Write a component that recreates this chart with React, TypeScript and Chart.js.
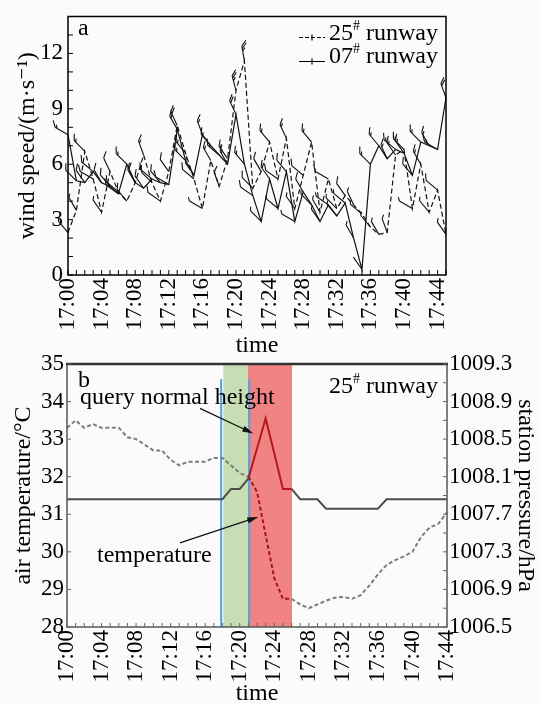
import React, { useEffect, useRef } from "react";
import { Chart, registerables } from "chart.js";
Chart.register(...registerables);

const FONT = "'Liberation Serif', 'Times New Roman', 'DejaVu Serif', serif";

// ---------- panel a ----------
const timeLabelsA = [
  "17:00","17:01","17:02","17:03","17:04","17:05","17:06","17:07","17:08","17:09",
  "17:10","17:11","17:12","17:13","17:14","17:15","17:16","17:17","17:18","17:19",
  "17:20","17:21","17:22","17:23","17:24","17:25","17:26","17:27","17:28","17:29",
  "17:30","17:31","17:32","17:33","17:34","17:35","17:36","17:37","17:38","17:39",
  "17:40","17:41","17:42","17:43","17:44","17:45",
];
const wind25 = [
  2.3, 3.5, 6.7, 5.2, 3.4, 5.6, 4.5, 4.0, 5.0, 6.5,
  5.0, 4.0, 5.6, 8.1, 6.6, 5.2, 3.6, 6.2, 4.8, 6.3,
  10.0, 11.6, 4.7, 5.6, 7.2, 5.2, 7.4, 3.6, 5.4, 7.2,
  3.4, 5.2, 3.6, 4.3, 3.8, 3.3, 2.6, 2.2, 2.3, 6.5,
  6.8, 3.6, 6.0, 3.4, 4.6, 2.2,
];
const wind07 = [
  7.6, 5.1, 5.0, 5.6, 5.0, 4.8, 4.4, 6.0, 5.0, 4.7,
  5.2, 5.0, 4.9, 7.9, 6.2, 5.4, 7.6, 7.0, 6.5, 6.0,
  8.7, 6.0, 4.3, 2.9, 5.2, 3.6, 5.6, 2.9, 4.5, 3.8,
  2.9, 3.8, 3.2, 3.9, 2.0, 0.3, 6.0, 7.0, 6.3, 6.8,
  6.6, 5.4, 7.2, 7.0, 6.8, 9.6,
];
// wind direction (degrees from north) used for the barbs
const dir25 = [
  320, 330, 315, 300, 325, 335, 310, 320, 330, 340,
  315, 305, 325, 335, 320, 310, 300, 330, 340, 325,
  345, 350, 315, 330, 320, 305, 335, 325, 310, 320,
  330, 300, 315, 325, 335, 310, 320, 330, 340, 325,
  315, 300, 330, 320, 310, 325,
];
const dir07 = [
  300, 315, 325, 310, 330, 320, 305, 315, 335, 325,
  310, 320, 300, 330, 315, 325, 340, 320, 310, 330,
  335, 320, 305, 315, 325, 310, 320, 300, 330, 315,
  325, 305, 320, 310, 330, 325, 315, 320, 335, 310,
  325, 320, 315, 330, 300, 340,
];
const windTicks = [0, 3, 6, 9, 12];

// ---------- panel b ----------
const timeLabelsB = [
  "17:00","17:01","17:02","17:03","17:04","17:05","17:06","17:07","17:08","17:09",
  "17:10","17:11","17:12","17:13","17:14","17:15","17:16","17:17","17:18","17:19",
  "17:20","17:21","17:22","17:23","17:24","17:25","17:26","17:27","17:28","17:29",
  "17:30","17:31","17:32","17:33","17:34","17:35","17:36","17:37","17:38","17:39",
  "17:40","17:41","17:42","17:43","17:44",
];
const temperature = [
  33.3, 33.5, 33.3, 33.4, 33.3, 33.3, 33.3, 33.05, 33.0, 32.85,
  32.7, 32.7, 32.45, 32.3, 32.4, 32.4, 32.4, 32.5, 32.5, 32.3,
  32.1, 32.0, 31.6, 30.45, 29.3, 28.75, 28.75, 28.6, 28.5, 28.6,
  28.7, 28.78, 28.8, 28.75, 28.85, 29.1, 29.4, 29.65, 29.78, 29.88,
  30.0, 30.4, 30.65, 30.75, 31.05,
];
const pressure = [
  1007.86, 1007.86, 1007.86, 1007.86, 1007.86, 1007.86, 1007.86, 1007.86, 1007.86, 1007.86,
  1007.86, 1007.86, 1007.86, 1007.86, 1007.86, 1007.86, 1007.86, 1007.86, 1007.86, 1007.97,
  1007.97, 1008.08, 1008.4, 1008.72, 1008.35, 1007.97, 1007.97, 1007.86, 1007.86, 1007.86,
  1007.76, 1007.76, 1007.76, 1007.76, 1007.76, 1007.76, 1007.76, 1007.86, 1007.86, 1007.86,
  1007.86, 1007.86, 1007.86, 1007.86, 1007.86,
];
const tempTicks = [28, 29, 30, 31, 32, 33, 34, 35];
const pressureTicks = ["1006.5", "1006.9", "1007.3", "1007.7", "1008.1", "1008.5", "1008.9", "1009.3"];
const greenBand = [18.1, 20.95];
const redBand = [20.95, 26.05];
const blueLines = [17.85, 21.1];
const blueTop = 34.6;
const heightArrow = [15.4, 33.82, 21.57, 33.15];
const tempArrow = [13.08, 30.24, 22.15, 30.93];

function drawBarb(ctx: CanvasRenderingContext2D, x: number, y: number, dirDeg: number, speed: number) {
  const r = (dirDeg * Math.PI) / 180;
  const dx = Math.sin(r), dy = -Math.cos(r);
  const L = 15;
  const ex = x + dx * L, ey = y + dy * L;
  ctx.beginPath();
  ctx.moveTo(x, y);
  ctx.lineTo(ex, ey);
  const c = Math.cos(Math.PI / 4), s = Math.sin(Math.PI / 4);
  const fx = dx * c - dy * s, fy = dx * s + dy * c;
  const full = Math.floor(speed / 4);
  const half = speed - full * 4 >= 2;
  let pos = 0;
  for (let k = 0; k < full; k++) {
    const bx = ex - dx * pos, by = ey - dy * pos;
    ctx.moveTo(bx, by);
    ctx.lineTo(bx + fx * 7, by + fy * 7);
    pos += 2.5;
  }
  if (half) {
    const bx = ex - dx * pos, by = ey - dy * pos;
    ctx.moveTo(bx, by);
    ctx.lineTo(bx + fx * 4, by + fy * 4);
  }
  ctx.stroke();
}

function arrow(ctx: CanvasRenderingContext2D, x1: number, y1: number, x2: number, y2: number) {
  const ang = Math.atan2(y2 - y1, x2 - x1);
  const hl = 11, hw = 3;
  ctx.beginPath();
  ctx.moveTo(x1, y1);
  ctx.lineTo(x2 - Math.cos(ang) * hl * 0.8, y2 - Math.sin(ang) * hl * 0.8);
  ctx.stroke();
  ctx.beginPath();
  ctx.moveTo(x2, y2);
  ctx.lineTo(x2 - Math.cos(ang) * hl - Math.sin(ang) * hw, y2 - Math.sin(ang) * hl + Math.cos(ang) * hw);
  ctx.lineTo(x2 - Math.cos(ang) * hl + Math.sin(ang) * hw, y2 - Math.sin(ang) * hl - Math.cos(ang) * hw);
  ctx.closePath();
  ctx.fill();
}

const tickFont = { family: FONT, size: 23, lineHeight: 1 };
const titleFont = { family: FONT, size: 24 };

export default function App() {
  const refA = useRef<HTMLCanvasElement>(null);
  const refB = useRef<HTMLCanvasElement>(null);

  useEffect(() => {
    const pluginA = {
      id: "panelA",
      afterDatasetsDraw(chart: any) {
        const ctx = chart.ctx as CanvasRenderingContext2D;
        ctx.save();
        ctx.strokeStyle = "#111";
        ctx.lineWidth = 1.1;
        ctx.setLineDash([]);
        const sets = [
          { vals: wind25, dirs: dir25 },
          { vals: wind07, dirs: dir07 },
        ];
        sets.forEach((st, d) => {
          const meta = chart.getDatasetMeta(d);
          meta.data.forEach((pt: any, i: number) => drawBarb(ctx, pt.x, pt.y, st.dirs[i], st.vals[i]));
        });
        ctx.restore();
      },
      afterDraw(chart: any) {
        const ctx = chart.ctx as CanvasRenderingContext2D;
        const a = chart.chartArea;
        ctx.save();
        ctx.strokeStyle = "#000";
        ctx.lineWidth = 1.5;
        ctx.strokeRect(a.left, a.top, a.right - a.left, a.bottom - a.top);
        ctx.lineWidth = 1;
        ctx.beginPath();
        const xs = chart.scales.x;
        for (let i = 0; i < timeLabelsA.length; i++) {
          const px = xs.getPixelForTick(i);
          ctx.moveTo(px, a.bottom);
          ctx.lineTo(px, a.bottom - 5);
        }
        const ys = chart.scales.y;
        ys.ticks.forEach((t: any) => {
          const py = ys.getPixelForValue(t.value);
          ctx.moveTo(a.left, py);
          ctx.lineTo(a.left + 5, py);
        });
        ctx.stroke();
        // legend samples
        ctx.lineWidth = 1.2;
        const lx1 = a.right - 147, lx2 = a.right - 121;
        const ly1 = a.top + 21, ly2 = a.top + 45;
        ctx.setLineDash([4, 2]);
        ctx.beginPath();
        ctx.moveTo(lx1, ly1);
        ctx.lineTo(lx2, ly1);
        ctx.stroke();
        ctx.setLineDash([]);
        ctx.beginPath();
        ctx.moveTo(lx1, ly2);
        ctx.lineTo(lx2, ly2);
        const mx = (lx1 + lx2) / 2;
        ctx.moveTo(mx, ly1 - 3);
        ctx.lineTo(mx, ly1 + 3);
        ctx.moveTo(mx, ly2 - 3);
        ctx.lineTo(mx, ly2 + 3);
        ctx.stroke();
        ctx.restore();
      },
    };

    const chartA = new Chart(refA.current as HTMLCanvasElement, {
      type: "line",
      data: {
        labels: timeLabelsA,
        datasets: [
          { label: "25# runway", data: wind25, borderColor: "#111", borderWidth: 1.2, borderDash: [5, 3], pointRadius: 0, tension: 0, fill: false },
          { label: "07# runway", data: wind07, borderColor: "#111", borderWidth: 1.2, pointRadius: 0, tension: 0, fill: false },
        ],
      },
      options: {
        animation: false,
        responsive: false,
        layout: { padding: { top: 12, right: 93, left: 0, bottom: 0 } },
        plugins: { legend: { display: false }, tooltip: { enabled: false } },
        scales: {
          x: {
            type: "category",
            offset: false,
            grid: { display: false, drawTicks: false },
            border: { display: false },
            ticks: {
              autoSkip: false, maxRotation: 90, minRotation: 90, padding: 3, color: "#000", font: tickFont,
              callback: (_v: any, i: number) => (i % 4 === 0 ? timeLabelsA[i] : ""),
            },
            title: { display: true, text: "time", color: "#000", font: titleFont, padding: 0 },
            afterFit: (s: any) => { s.height = 85; },
          },
          y: {
            min: 0, max: 14,
            grid: { display: false, drawTicks: false },
            border: { display: false },
            ticks: {
              stepSize: 1, maxTicksLimit: 100, autoSkip: false, padding: 5, color: "#000", font: tickFont,
              callback: (v: any) => (windTicks.includes(v) ? String(v) : ""),
            },
            title: { display: true, text: "wind speed/(m·s⁻¹)", color: "#000", font: titleFont, padding: { top: 13, bottom: 0 } },
            afterFit: (s: any) => { s.width = 68; },
          },
        },
      } as any,
      plugins: [pluginA],
    });

    const inRed = (c: any) => c.p0DataIndex >= redBand[0] - 0.1 && c.p1DataIndex <= redBand[1] + 0.1;

    const pluginB = {
      id: "panelB",
      beforeDatasetsDraw(chart: any) {
        const ctx = chart.ctx as CanvasRenderingContext2D;
        const a = chart.chartArea;
        const xs = chart.scales.x, ys = chart.scales.y;
        ctx.save();
        ctx.fillStyle = "rgba(196, 219, 176, 0.95)";
        const g0 = xs.getPixelForValue(greenBand[0]), g1 = xs.getPixelForValue(greenBand[1]);
        ctx.fillRect(g0, a.top, g1 - g0, a.bottom - a.top);
        ctx.fillStyle = "rgba(240, 124, 124, 0.95)";
        const r0 = xs.getPixelForValue(redBand[0]), r1 = xs.getPixelForValue(redBand[1]);
        ctx.fillRect(r0, a.top, r1 - r0, a.bottom - a.top);
        ctx.strokeStyle = "#4ea4e2";
        ctx.lineWidth = 2;
        ctx.beginPath();
        blueLines.forEach((b) => {
          const px = xs.getPixelForValue(b);
          ctx.moveTo(px, ys.getPixelForValue(blueTop));
          ctx.lineTo(px, a.bottom);
        });
        ctx.stroke();
        ctx.restore();
      },
      afterDatasetsDraw(chart: any) {
        const ctx = chart.ctx as CanvasRenderingContext2D;
        const xs = chart.scales.x, ys = chart.scales.y;
        ctx.save();
        ctx.strokeStyle = "#111";
        ctx.fillStyle = "#111";
        ctx.lineWidth = 1.2;
        [heightArrow, tempArrow].forEach((ar) => {
          arrow(ctx, xs.getPixelForValue(ar[0]), ys.getPixelForValue(ar[1]), xs.getPixelForValue(ar[2]), ys.getPixelForValue(ar[3]));
        });
        ctx.restore();
      },
      afterDraw(chart: any) {
        const ctx = chart.ctx as CanvasRenderingContext2D;
        const a = chart.chartArea;
        ctx.save();
        ctx.strokeStyle = "#555";
        ctx.lineWidth = 1.5;
        ctx.beginPath();
        ctx.moveTo(a.left, a.top);
        ctx.lineTo(a.left, a.bottom);
        ctx.lineTo(a.right, a.bottom);
        ctx.lineTo(a.right, a.top);
        ctx.stroke();
        ctx.strokeStyle = "#333";
        ctx.lineWidth = 2.5;
        ctx.beginPath();
        ctx.moveTo(a.left - 1, a.top);
        ctx.lineTo(a.right + 1, a.top);
        ctx.stroke();
        ctx.strokeStyle = "#666";
        ctx.lineWidth = 1;
        ctx.beginPath();
        const xs = chart.scales.x;
        for (let i = 0; i < timeLabelsB.length; i++) {
          const px = xs.getPixelForTick(i);
          ctx.moveTo(px, a.bottom);
          ctx.lineTo(px, a.bottom - 4);
        }
        const ys = chart.scales.y;
        ys.ticks.forEach((t: any) => {
          const py = ys.getPixelForValue(t.value);
          ctx.moveTo(a.left, py);
          ctx.lineTo(a.left + 4, py);
        });
        const y1 = chart.scales.y1;
        y1.ticks.forEach((t: any) => {
          const py = y1.getPixelForValue(t.value);
          ctx.moveTo(a.right, py);
          ctx.lineTo(a.right - 4, py);
          const pm = y1.getPixelForValue(t.value + 0.2);
          if (pm > a.top + 1) {
            ctx.moveTo(a.right, pm);
            ctx.lineTo(a.right - 4, pm);
          }
        });
        ctx.stroke();
        ctx.restore();
      },
    };

    const chartB = new Chart(refB.current as HTMLCanvasElement, {
      type: "line",
      data: {
        labels: timeLabelsB,
        datasets: [
          {
            label: "station pressure", data: pressure, yAxisID: "y1", borderColor: "#4d4d4d", borderWidth: 2, pointRadius: 0, tension: 0, fill: false,
            segment: { borderColor: (c: any) => (inRed(c) ? "#b3191c" : undefined) },
          },
          {
            label: "temperature", data: temperature, yAxisID: "y", borderColor: "#7d7d7d", borderWidth: 2, borderDash: [4, 2.5], pointRadius: 0, tension: 0, fill: false,
            segment: { borderColor: (c: any) => (inRed(c) ? "#a51515" : undefined) },
          },
        ],
      },
      options: {
        animation: false,
        responsive: false,
        layout: { padding: { top: 24, right: 0, left: 0, bottom: 0 } },
        plugins: { legend: { display: false }, tooltip: { enabled: false } },
        scales: {
          x: {
            type: "category",
            offset: false,
            grid: { display: false, drawTicks: false },
            border: { display: false },
            ticks: {
              autoSkip: false, maxRotation: 90, minRotation: 90, padding: 3, color: "#000", font: tickFont,
              callback: (_v: any, i: number) => (i % 4 === 0 ? timeLabelsB[i] : ""),
            },
            title: { display: true, text: "time", color: "#000", font: titleFont, padding: { top: 0, bottom: -5 } },
            afterFit: (s: any) => { s.height = 76; },
          },
          y: {
            position: "left",
            min: 28, max: 35,
            grid: { display: false, drawTicks: false },
            border: { display: false },
            ticks: {
              stepSize: 1, maxTicksLimit: 100, padding: 3, color: "#000", font: tickFont,
              callback: (v: any) => (tempTicks.includes(v) ? String(v) : ""),
            },
            title: { display: true, text: "air temperature/°C", color: "#000", font: titleFont, padding: { top: 9, bottom: 0 } },
            afterFit: (s: any) => { s.width = 67; },
          },
          y1: {
            position: "right",
            min: 1006.5, max: 1009.3,
            grid: { display: false, drawTicks: false },
            border: { display: false },
            ticks: {
              stepSize: 0.4, maxTicksLimit: 100, padding: 2, color: "#000", font: tickFont,
              callback: (_v: any, i: number) => pressureTicks[i] ?? "",
            },
            title: { display: true, text: "station pressure/hPa", color: "#000", font: titleFont, padding: { top: -1, bottom: 0 } },
            afterFit: (s: any) => { s.width = 92; },
          },
        },
      } as any,
      plugins: [pluginB],
    });

    return () => {
      chartA.destroy();
      chartB.destroy();
    };
  }, []);

  const txt = (left: number, top: number): React.CSSProperties => ({
    position: "absolute", left, top, fontFamily: FONT, fontSize: 24, lineHeight: "24px", color: "#000", whiteSpace: "nowrap",
  });
  const sup: React.CSSProperties = { fontSize: 14, position: "relative", top: -10 };

  return (
    <div style={{ position: "absolute", left: 0, top: 0, width: 539, height: 703, background: "#fbfbfb", overflow: "hidden" }}>
      <canvas ref={refA} width={539} height={360} style={{ position: "absolute", left: 0, top: 0 }} />
      <canvas ref={refB} width={539} height={363} style={{ position: "absolute", left: 0, top: 340 }} />
      <div style={txt(78, 15)}>a</div>
      <div style={txt(329, 20)}>25<span style={sup}>#</span> runway</div>
      <div style={txt(329, 43)}>07<span style={sup}>#</span> runway</div>
      <div style={txt(78, 367)}>b</div>
      <div style={txt(80, 384)}>query normal height</div>
      <div style={txt(97, 542)}>temperature</div>
      <div style={txt(329, 373)}>25<span style={sup}>#</span> runway</div>
    </div>
  );
}
